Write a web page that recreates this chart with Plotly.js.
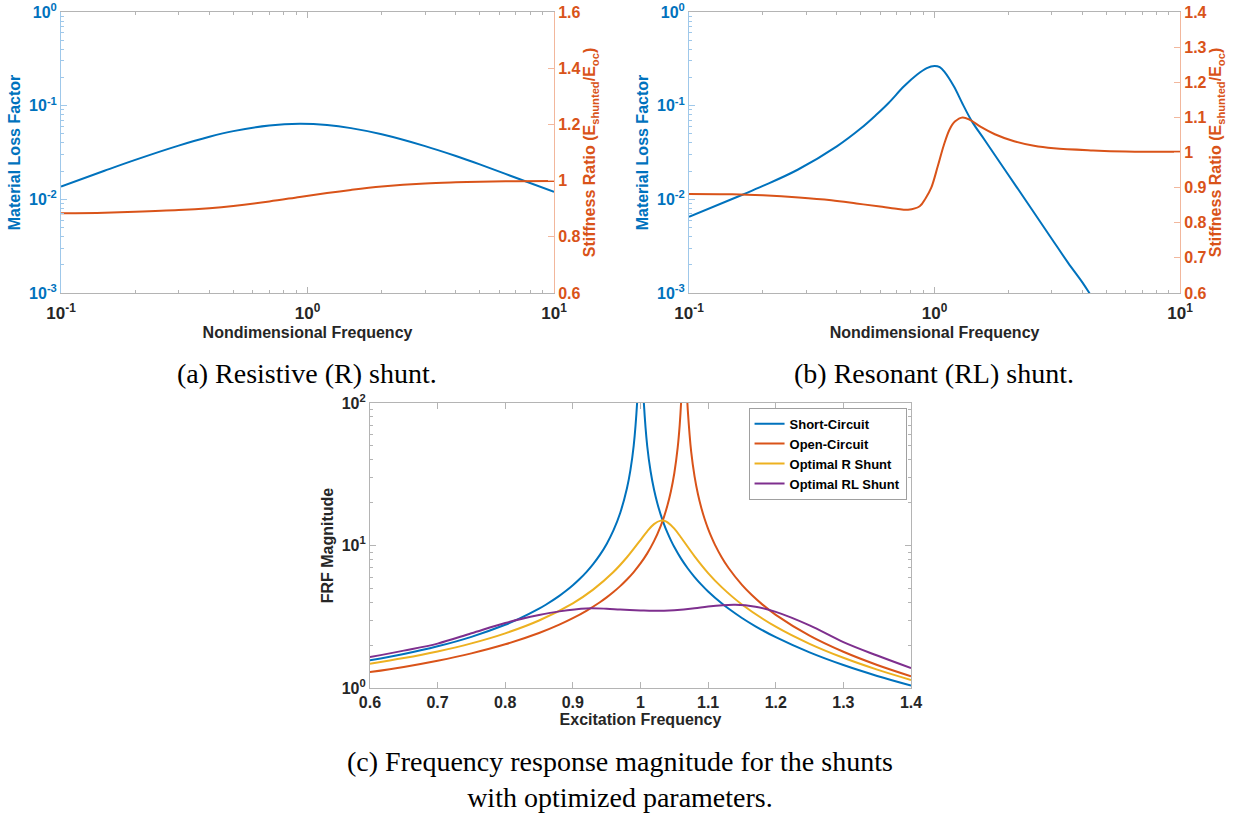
<!DOCTYPE html>
<html>
<head>
<meta charset="utf-8">
<script src="https://cdn.plot.ly/plotly-3.0.1.min.js"></script>
<style>html,body{margin:0;padding:0;background:#fff;}#chart{width:1241px;height:818px;}</style>
</head>
<body>
<div id="chart"></div>
<script>
// ---------- (a) Resistive shunt ----------
const freqA  = [0.1, 0.15, 0.2, 0.3, 0.4, 0.5, 0.7, 0.93, 1.2, 1.5, 2, 3, 4, 5, 7, 10];
const lossA  = [0.0137, 0.0202, 0.0264, 0.0375, 0.0466, 0.0535, 0.0615, 0.0640, 0.0621, 0.0576, 0.0495, 0.0370, 0.0290, 0.0236, 0.0170, 0.0120];
const stiffA = [0.884, 0.886, 0.889, 0.895, 0.902, 0.910, 0.926, 0.942, 0.956, 0.967, 0.979, 0.990, 0.994, 0.996, 0.998, 0.999];

// ---------- (b) Resonant RL shunt ----------
const freqBLoss = [0.1, 0.165, 0.2, 0.277, 0.4, 0.5, 0.579, 0.65, 0.751, 0.85, 0.93, 1.0, 1.05, 1.1, 1.2, 1.3, 1.42, 1.6, 2.0, 2.5, 3.0, 3.5, 4.0, 4.27, 4.5];
const lossB     = [0.0065, 0.0112, 0.0139, 0.0207, 0.0368, 0.057, 0.080, 0.107, 0.161, 0.215, 0.252, 0.266, 0.258, 0.228, 0.160, 0.105, 0.068, 0.043, 0.0182, 0.0077, 0.0038, 0.0021, 0.0013, 0.0010, 0.0008];
const freqBStiff = [0.1, 0.15, 0.2, 0.28, 0.38, 0.48, 0.6, 0.7, 0.78, 0.87, 0.92, 0.97, 1.03, 1.09, 1.15, 1.21, 1.3, 1.4, 1.55, 1.76, 2.11, 2.54, 3.06, 4.42, 6, 10];
const stiffB     = [0.882, 0.881, 0.878, 0.872, 0.864, 0.855, 0.846, 0.840, 0.837, 0.847, 0.870, 0.900, 0.960, 1.020, 1.065, 1.088, 1.100, 1.092, 1.072, 1.052, 1.032, 1.019, 1.012, 1.006, 1.003, 1.002];

// ---------- (c) FRF magnitude ----------
const excSC = [0.6, 0.65, 0.7, 0.75, 0.8, 0.82, 0.85, 0.86, 0.88, 0.89, 0.9, 0.91, 0.92, 0.93, 0.94, 0.95, 0.96, 0.97, 0.98, 0.985, 0.99, 0.995, 0.997, null, 1.003, 1.005, 1.01, 1.015, 1.02, 1.025, 1.03, 1.035, 1.04, 1.045, 1.05, 1.06, 1.07, 1.08, 1.09, 1.1, 1.12, 1.13, 1.15, 1.17, 1.2, 1.25, 1.3, 1.35, 1.4];
const frfSC = [1.563, 1.732, 1.961, 2.286, 2.778, 3.053, 3.604, 3.840, 4.433, 4.810, 5.263, 5.817, 6.510, 7.402, 8.591, 10.26, 12.76, 16.92, 25.25, 33.59, 50.25, 100.3, 166.9, null, 166.4, 99.75, 49.75, 33.08, 24.75, 19.75, 16.42, 14.04, 12.25, 10.87, 9.756, 8.091, 6.901, 6.010, 5.316, 4.762, 3.931, 3.611, 3.101, 2.711, 2.273, 1.778, 1.449, 1.216, 1.042];

const excOC = [0.6, 0.65, 0.7, 0.75, 0.8, 0.85, 0.88, 0.9, 0.92, 0.94, 0.95, 0.96, 0.97, 0.98, 0.99, 1.0, 1.01, 1.02, 1.03, 1.035, 1.04, 1.045, 1.05, 1.055, 1.058, 1.06, 1.062, null, 1.067, 1.069, 1.07, 1.075, 1.08, 1.085, 1.09, 1.095, 1.1, 1.105, 1.11, 1.12, 1.13, 1.15, 1.165, 1.18, 1.2, 1.25, 1.3, 1.35, 1.4];
const frfOC = [1.293, 1.406, 1.554, 1.751, 2.026, 2.432, 2.784, 3.090, 3.482, 4.000, 4.327, 4.717, 5.189, 5.774, 6.515, 7.485, 8.811, 10.73, 13.76, 16.03, 19.23, 24.05, 32.15, 48.60, 70.24, 100.0, 173.7, null, 204.5, 109.2, 88.5, 45.40, 30.49, 22.92, 18.35, 15.28, 13.09, 11.44, 10.15, 8.278, 6.978, 5.294, 4.472, 3.864, 3.264, 2.332, 1.797, 1.452, 1.210];

const excR = [0.6, 0.65, 0.7, 0.75, 0.8, 0.85, 0.9, 0.93, 0.96, 0.98, 1.0, 1.01, 1.02, 1.03, 1.035, 1.04, 1.05, 1.06, 1.08, 1.1, 1.12, 1.15, 1.2, 1.25, 1.3, 1.35, 1.4];
const frfR = [1.482, 1.622, 1.806, 2.058, 2.420, 2.977, 3.931, 4.902, 6.515, 8.271, 10.93, 12.58, 14.13, 14.95, 14.91, 14.55, 13.13, 11.38, 8.398, 6.411, 5.105, 3.858, 2.694, 2.043, 1.630, 1.346, 1.139];

const excRL = [0.6, 0.65, 0.7, 0.75, 0.8, 0.85, 0.88, 0.92, 0.95, 0.97, 1.0, 1.02, 1.05, 1.08, 1.1, 1.14, 1.17, 1.2, 1.25, 1.3, 1.35, 1.4];
const frfRL = [1.65, 1.83, 2.05, 2.42, 2.86, 3.25, 3.45, 3.62, 3.60, 3.55, 3.50, 3.48, 3.52, 3.63, 3.74, 3.84, 3.72, 3.42, 2.75, 2.10, 1.69, 1.38];

const legendNames = ['Short-Circuit', 'Open-Circuit', 'Optimal R Shunt', 'Optimal RL Shunt'];
const captions = ['(a) Resistive (R) shunt.', '(b) Resonant (RL) shunt.', '(c) Frequency response magnitude for the shunts<br>with optimized parameters.'];

// ---------- styling ----------
const BLUE = '#0072BD', ORANGE = '#D95319', YELLOW = '#EDB120', PURPLE = '#7E2F8E';
const GRAY = '#b4b4b4', LBLUE = '#9fc8ea', LORANGE = '#f2b79c', DARK = '#262626';
const FAM = 'Liberation Sans, Arial, sans-serif';
const SERIF = 'Liberation Serif, Times New Roman, serif';
const tf = (c, s) => ({family: FAM, size: s || 16, color: c, weight: 'bold'});
const LW = 2;

const logMinorX = [0.2,0.3,0.4,0.5,0.6,0.7,0.8,0.9,2,3,4,5,6,7,8,9];
const logMinorY3 = [0.002,0.003,0.004,0.005,0.006,0.007,0.008,0.009,0.02,0.03,0.04,0.05,0.06,0.07,0.08,0.09,0.2,0.3,0.4,0.5,0.6,0.7,0.8,0.9];
const logMinorY2 = [2,3,4,5,6,7,8,9,20,30,40,50,60,70,80,90];

const traces = [
  {x: freqA, y: lossA, xaxis: 'x', yaxis: 'y', mode: 'lines', line: {color: BLUE, width: LW, shape: 'spline'}, showlegend: false},
  {x: freqA, y: stiffA, xaxis: 'x', yaxis: 'y2', mode: 'lines', line: {color: ORANGE, width: LW, shape: 'spline'}, showlegend: false},
  {x: freqBLoss, y: lossB, xaxis: 'x2', yaxis: 'y3', mode: 'lines', line: {color: BLUE, width: LW, shape: 'spline'}, showlegend: false},
  {x: freqBStiff, y: stiffB, xaxis: 'x2', yaxis: 'y4', mode: 'lines', line: {color: ORANGE, width: LW, shape: 'spline'}, showlegend: false},
  {x: excSC, y: frfSC, xaxis: 'x3', yaxis: 'y5', mode: 'lines', name: legendNames[0], line: {color: BLUE, width: LW, shape: 'spline'}},
  {x: excOC, y: frfOC, xaxis: 'x3', yaxis: 'y5', mode: 'lines', name: legendNames[1], line: {color: ORANGE, width: LW, shape: 'spline'}},
  {x: excR, y: frfR, xaxis: 'x3', yaxis: 'y5', mode: 'lines', name: legendNames[2], line: {color: YELLOW, width: LW, shape: 'spline'}},
  {x: excRL, y: frfRL, xaxis: 'x3', yaxis: 'y5', mode: 'lines', name: legendNames[3], line: {color: PURPLE, width: LW, shape: 'spline'}}
];

function logX(domain, anchor) {
  return {
    domain: domain, anchor: anchor, type: 'log', range: [-1, 1],
    tickmode: 'array', tickvals: [0.1, 1, 10], ticktext: ['10<sup>-1</sup>', '10<sup>0</sup>', '10<sup>1</sup>'],
    ticks: 'inside', ticklen: 6, tickcolor: GRAY, showline: true, linecolor: GRAY, linewidth: 1, mirror: 'ticks',
    showgrid: false, zeroline: false, tickfont: tf(DARK, 17), ticklabelstandoff: 5,
    minor: {tickmode: 'array', tickvals: logMinorX, ticks: 'inside', ticklen: 3, tickcolor: GRAY, showgrid: false},
    title: {text: 'Nondimensional Frequency', font: tf(DARK), standoff: 4}
  };
}
function lossY(domain, anchor) {
  return {
    domain: domain, anchor: anchor, type: 'log', range: [-3, 0],
    tickmode: 'array', tickvals: [0.001, 0.01, 0.1, 1], ticktext: ['10<sup>-3</sup>', '10<sup>-2</sup>', '10<sup>-1</sup>', '10<sup>0</sup>'],
    ticks: 'inside', ticklen: 6, tickcolor: LBLUE, showline: true, linecolor: LBLUE, linewidth: 1,
    showgrid: false, zeroline: false, tickfont: tf(BLUE, 16),
    minor: {tickmode: 'array', tickvals: logMinorY3, ticks: 'inside', ticklen: 3, tickcolor: LBLUE, showgrid: false},
    title: {text: 'Material Loss Factor', font: tf(BLUE), standoff: 4}
  };
}
function stiffY(over, anchor, range, vals) {
  return {
    overlaying: over, anchor: anchor, side: 'right', range: range,
    tickmode: 'array', tickvals: vals, ticktext: vals.map(v => String(v)),
    ticks: 'inside', ticklen: 6, tickcolor: LORANGE, showline: true, linecolor: LORANGE, linewidth: 1,
    showgrid: false, zeroline: false, tickfont: tf(ORANGE, 16),
    title: {text: 'Stiffness Ratio (E<sub>shunted</sub>/E<sub>oc</sub>)', font: tf(ORANGE), standoff: 4}
  };
}

const layout = {
  width: 1241, height: 818, margin: {l: 0, r: 0, t: 0, b: 0},
  paper_bgcolor: '#ffffff', plot_bgcolor: '#ffffff',
  font: {family: FAM, color: DARK},
  xaxis: logX([0.0492, 0.4464], 'y'),
  yaxis: lossY([0.6418, 0.9853], 'x'),
  yaxis2: stiffY('y', 'x', [0.6, 1.6], [0.6, 0.8, 1, 1.2, 1.4, 1.6]),
  xaxis2: logX([0.5552, 0.9509], 'y3'),
  yaxis3: lossY([0.6418, 0.9853], 'x2'),
  yaxis4: stiffY('y3', 'x2', [0.6, 1.4], [0.6, 0.7, 0.8, 0.9, 1, 1.1, 1.2, 1.3, 1.4]),
  xaxis3: {
    domain: [0.2981, 0.7341], anchor: 'y5', range: [0.6, 1.4],
    tickmode: 'array', tickvals: [0.6, 0.7, 0.8, 0.9, 1, 1.1, 1.2, 1.3, 1.4], ticktext: ['0.6','0.7','0.8','0.9','1','1.1','1.2','1.3','1.4'],
    ticks: 'inside', ticklen: 6, tickcolor: GRAY, showline: true, linecolor: GRAY, linewidth: 1, mirror: 'ticks',
    showgrid: false, zeroline: false, tickfont: tf(DARK, 16),
    title: {text: 'Excitation Frequency', font: tf(DARK), standoff: 2}
  },
  yaxis5: {
    domain: [0.1589, 0.5073], anchor: 'x3', type: 'log', range: [0, 2],
    tickmode: 'array', tickvals: [1, 10, 100], ticktext: ['10<sup>0</sup>', '10<sup>1</sup>', '10<sup>2</sup>'],
    ticks: 'inside', ticklen: 6, tickcolor: GRAY, showline: true, linecolor: GRAY, linewidth: 1, mirror: 'ticks',
    showgrid: false, zeroline: false, tickfont: tf(DARK, 16),
    minor: {tickmode: 'array', tickvals: logMinorY2, ticks: 'inside', ticklen: 3, tickcolor: GRAY, showgrid: false},
    title: {text: 'FRF Magnitude', font: tf(DARK), standoff: 4}
  },
  legend: {
    x: 0.7305, y: 0.5015, xanchor: 'right', yanchor: 'top',
    bgcolor: '#ffffff', bordercolor: '#a0a0a0', borderwidth: 1,
    font: {family: FAM, size: 13, color: '#000000', weight: 'bold'},
    tracegroupgap: 0, itemwidth: 30
  },
  annotations: [
    {text: captions[0], x: 0.2474, y: 0.544, xref: 'paper', yref: 'paper', showarrow: false, xanchor: 'center', yanchor: 'middle', font: {family: SERIF, size: 28, color: '#000'}},
    {text: captions[1], x: 0.7526, y: 0.544, xref: 'paper', yref: 'paper', showarrow: false, xanchor: 'center', yanchor: 'middle', font: {family: SERIF, size: 28, color: '#000'}},
    {text: captions[2], x: 0.4996, y: 0.0465, xref: 'paper', yref: 'paper', showarrow: false, xanchor: 'center', yanchor: 'middle', align: 'center', font: {family: SERIF, size: 28, color: '#000'}}
  ]
};

Plotly.newPlot('chart', traces, layout, {displayModeBar: false, staticPlot: true});
</script>
</body>
</html>
